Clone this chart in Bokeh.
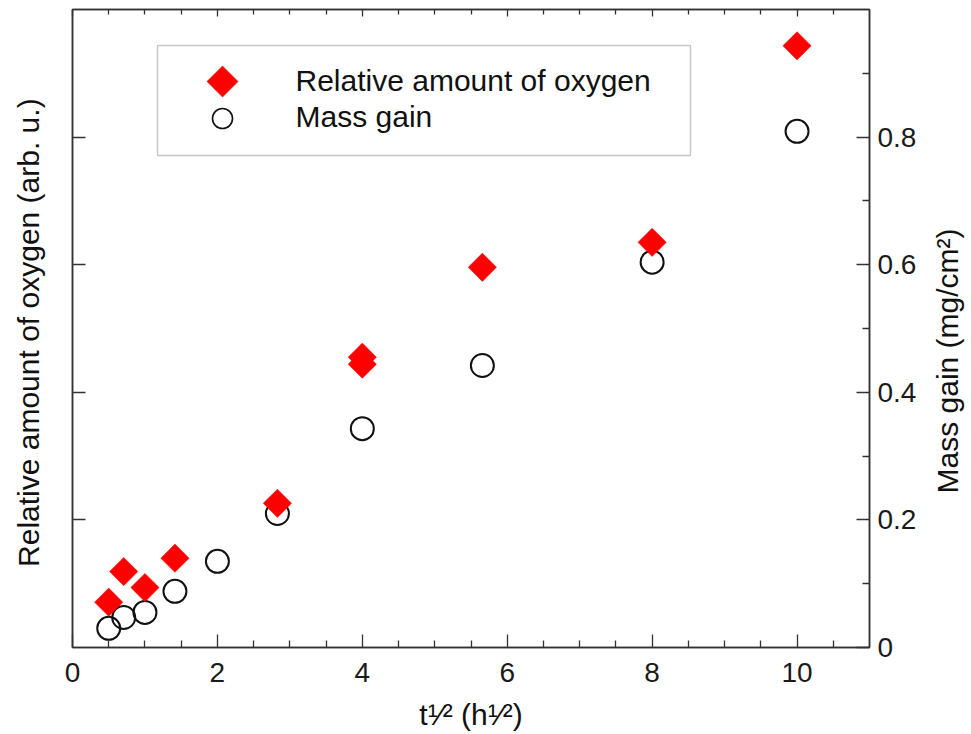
import math
from bokeh.plotting import figure
from bokeh.models import (Range1d, LinearAxis, FixedTicker, Label, BoxAnnotation,
                          ColumnDataSource)
from bokeh.embed import file_html
from bokeh.resources import INLINE

# ---- data ----
sqrt_t_mass = [0.5, 0.707, 1.0, 1.414, 2.0, 2.828, 4.0, 5.657, 8.0, 10.0]
mass_gain = [0.030, 0.047, 0.055, 0.088, 0.135, 0.210, 0.343, 0.442, 0.604, 0.809]

sqrt_t_oxy = [0.5, 0.707, 1.0, 1.414, 2.828, 4.0, 4.0, 5.657, 8.0, 10.0]
oxygen_rel = [0.071, 0.119, 0.094, 0.140, 0.226, 0.455, 0.444, 0.596, 0.635, 0.943]

x_major = [0, 2, 4, 6, 8, 10]
x_minor = [0.5, 1, 1.5, 2.5, 3, 3.5, 4.5, 5, 5.5, 6.5, 7, 7.5, 8.5, 9, 9.5, 10.5]
y_major = [0, 0.2, 0.4, 0.6, 0.8]
y_minor = [0.1, 0.3, 0.5, 0.7, 0.9]
left_major = [0.2, 0.4, 0.6, 0.8]

series_labels = ["Relative amount of oxygen", "Mass gain"]
x_title = "t¹⁄² (h¹⁄²)"
left_title = "Relative amount of oxygen  (arb. u.)"
right_title = "Mass gain (mg/cm²)"

FONT = "Liberation Sans"
AX = "#333333"
TXT = "#111111"

FW, FH = 797, 638
X0, X1, Y0, Y1 = 0, 11, 0, 1

p = figure(frame_width=FW, frame_height=FH,
           x_range=Range1d(X0, X1), y_range=Range1d(Y0, Y1),
           x_axis_location=None, y_axis_location=None,
           output_backend="svg", toolbar_location=None,
           min_border_left=72, min_border_right=102,
           min_border_top=9, min_border_bottom=87,
           background_fill_color="white", border_fill_color="white",
           outline_line_color=AX, outline_line_width=1.5)
p.extra_y_ranges = {"mass": Range1d(0, 1)}
p.grid.visible = False

def style(ax, labels=True, tin=13, mtin=7):
    ax.major_tick_in = tin
    ax.major_tick_out = 0
    ax.minor_tick_in = mtin
    ax.minor_tick_out = 0
    ax.axis_line_color = AX
    ax.axis_line_width = 1.5
    ax.major_tick_line_color = AX
    ax.minor_tick_line_color = AX
    ax.major_tick_line_width = 1.3
    ax.minor_tick_line_width = 1.3
    ax.axis_label_text_font = FONT
    ax.axis_label_text_font_size = "30px"
    ax.axis_label_text_font_style = "normal"
    ax.axis_label_text_color = TXT
    if labels:
        ax.major_label_text_font = FONT
        ax.major_label_text_font_size = "28px"
        ax.major_label_text_color = "#1a1a1a"
    else:
        ax.major_label_text_font_size = "0px"
        ax.major_label_standoff = 0

bottom = LinearAxis(ticker=FixedTicker(ticks=x_major, minor_ticks=x_minor))
style(bottom)
bottom.major_label_standoff = 15
bottom.axis_label = x_title
bottom.axis_label_standoff = 13
p.add_layout(bottom, "below")

top = LinearAxis(ticker=FixedTicker(ticks=x_major, minor_ticks=x_minor))
style(top, labels=False, tin=7, mtin=5)
top.major_label_overrides = {v: "" for v in x_major}
p.add_layout(top, "above")

left = LinearAxis(ticker=FixedTicker(ticks=left_major, minor_ticks=[]))
style(left, labels=False, tin=13, mtin=0)
left.major_label_overrides = {v: "" for v in left_major}
left.axis_label = left_title
left.axis_label_standoff = 28
p.add_layout(left, "left")

right = LinearAxis(y_range_name="mass", ticker=FixedTicker(ticks=y_major, minor_ticks=y_minor))
style(right)
right.major_label_standoff = 8
right.major_label_overrides = {0: "0"}
p.add_layout(right, "right")

# right-hand title, reading upwards, placed in the right side panel
p.add_layout(Label(x=28, y=154, x_units="screen", y_units="screen", text=right_title,
                   angle=math.pi / 2, text_align="left", text_baseline="alphabetic",
                   text_font=FONT, text_font_size="30px", text_color=TXT), "right")

src_oxy = ColumnDataSource(dict(x=sqrt_t_oxy, y=oxygen_rel))
src_mass = ColumnDataSource(dict(x=sqrt_t_mass, y=mass_gain))

p.scatter("x", "y", source=src_mass, y_range_name="mass", marker="circle",
          size=23, fill_alpha=0, line_color=TXT, line_width=2)
p.scatter("x", "y", source=src_oxy, marker="square", angle=math.pi / 4,
          size=20, fill_color="#ff0000", line_color="#ff0000", line_width=0.5)

# ---- legend (drawn by hand so the diamond keeps its shape) ----
def px_to_data(px, py):
    return (X0 + px / FW * (X1 - X0), Y1 - py / FH * (Y1 - Y0))

bl, bt, br, bb = 85, 36, 618, 146
l_, t_ = px_to_data(bl, bt)
r_, b_ = px_to_data(br, bb)
p.add_layout(BoxAnnotation(left=l_, right=r_, top=t_, bottom=b_,
                           fill_alpha=0, line_color="#444444", line_width=1.5))

sym_px, row1_py, row2_py = 150, 72, 109
sx, sy1 = px_to_data(sym_px, row1_py)
_, sy2 = px_to_data(sym_px, row2_py)
p.scatter(x=[sx], y=[sy1], marker="square", angle=math.pi / 4, size=22,
          fill_color="#ff0000", line_color="#ff0000", line_width=0.5)
p.scatter(x=[sx], y=[sy2], marker="circle", size=20, fill_alpha=0,
          line_color=TXT, line_width=1.6)

text_px = 223
for lbl, base_py in zip(series_labels, [71, 107]):
    p.add_layout(Label(x=text_px, y=FH - base_py, x_units="screen", y_units="screen",
                       text=lbl, text_font=FONT, text_font_size="30px",
                       text_color=TXT, text_baseline="alphabetic", text_align="left"))

open("out.html", "w").write(file_html(p, INLINE))
